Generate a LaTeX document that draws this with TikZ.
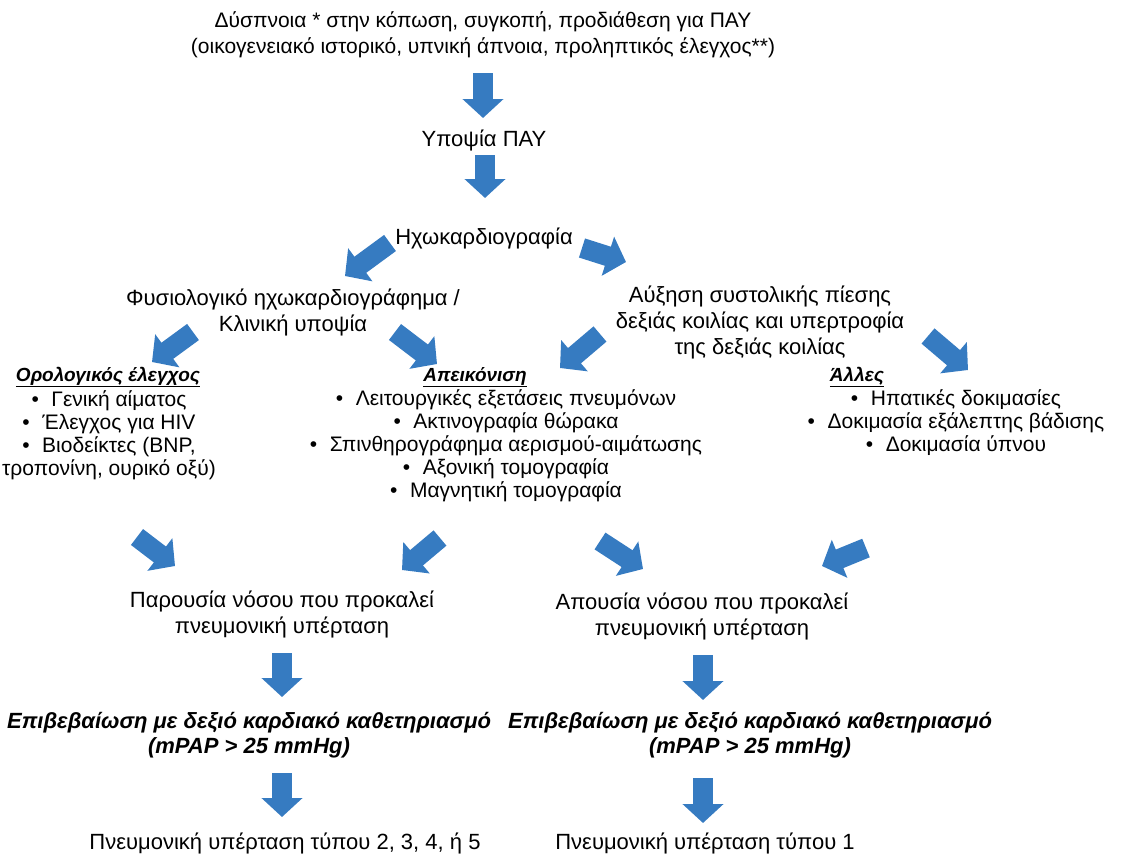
\documentclass[tikz,border=0pt]{standalone}
\usepackage{fontspec}
\setmainfont{Liberation Sans}
\usepackage{tikz}
\usetikzlibrary{arrows.meta}

\definecolor{arrowblue}{RGB}{54,123,193}
\tikzset{
    txt/.style={align=center, inner sep=2pt, font=\fontsize{22}{26}\selectfont},
    lst/.style={align=center, inner sep=2pt, font=\fontsize{21}{23}\selectfont},
    hdr/.style={inner sep=2pt, font=\fontsize{19}{23}\selectfont\bfseries\itshape},
    cnf/.style={align=center, inner sep=2pt, font=\fontsize{22}{25}\selectfont\bfseries\itshape},
    bigarrow/.style={arrowblue, line width=20pt, -{Triangle[width=40pt,length=19pt]}}
}
\newcommand{\bul}{•\hspace{0.6em}}

\begin{document}
\begin{tikzpicture}[x=1pt, y=-1pt]
                \useasboundingbox (0,0) rectangle (1125,857);
                \node[txt, font=\fontsize{21}{26}\selectfont] (sympt) at (483,35) {Δύσπνοια * στην κόπωση, συγκοπή, προδιάθεση για ΠΑΥ\\(οικογενειακό ιστορικό, υπνική άπνοια, προληπτικός έλεγχος**)};
                \node[txt] (susp) at (484,140) {Υποψία ΠΑΥ};
                \node[txt] (echo) at (484,238) {Ηχωκαρδιογραφία};
                \node[txt] (normal) at (293,312) {Φυσιολογικό ηχωκαρδιογράφημα /\\Κλινική υποψία};
                \node[txt] (rvsp) at (760,322) {Αύξηση συστολικής πίεσης\\δεξιάς κοιλίας και υπερτροφία\\της δεξιάς κοιλίας};
                \node[hdr] (sero) at (108,377) {\underline{Ορολογικός έλεγχος}};
                \node[lst] (serolist) at (109,435) {\bul Γενική αίματος\\\bul Έλεγχος για HIV\\\bul Βιοδείκτες (BNP,\\τροπονίνη, ουρικό οξύ)};
                \node[hdr] (imag) at (475,377) {\underline{Απεικόνιση}};
                \node[lst] (imaglist) at (506,446) {\bul Λειτουργικές εξετάσεις πνευμόνων\\\bul Ακτινογραφία θώρακα\\\bul Σπινθηρογράφημα αερισμού-αιμάτωσης\\\bul Αξονική τομογραφία\\\bul Μαγνητική τομογραφία};
                \node[hdr] (other) at (857,377) {\underline{Άλλες}};
                \node[lst] (otherlist) at (956,423) {\bul Ηπατικές δοκιμασίες\\\bul Δοκιμασία εξάλεπτης βάδισης\\\bul Δοκιμασία ύπνου};
                \node[txt] (present) at (282,614) {Παρουσία νόσου που προκαλεί\\πνευμονική υπέρταση};
                \node[txt] (absent) at (702,616) {Απουσία νόσου που προκαλεί\\πνευμονική υπέρταση};
                \node[cnf] (rhcl) at (249,735) {Επιβεβαίωση με δεξιό καρδιακό καθετηριασμό\\(mPAP > 25 mmHg)};
                \node[cnf] (rhcr) at (750,735) {Επιβεβαίωση με δεξιό καρδιακό καθετηριασμό\\(mPAP > 25 mmHg)};
                \node[txt] (typeb) at (285,843) {Πνευμονική υπέρταση τύπου 2, 3, 4, ή 5};
                \node[txt] (typea) at (705,843) {Πνευμονική υπέρταση τύπου 1};
                \draw[bigarrow] ([shift={(0,38)}]sympt.center) -- ([shift={(-1,-22)}]susp.center);
                \draw[bigarrow] ([shift={(1,15)}]susp.center) -- ([shift={(1,-40)}]echo.center);
                \draw[bigarrow] ([shift={(-94,5)}]echo.center) -- ([shift={(52,-36)}]normal.center);
                \draw[bigarrow] ([shift={(98,10)}]echo.center) -- ([shift={(-134,-60)}]rvsp.center);
                \draw[bigarrow] ([shift={(-100,20)}]normal.center) -- ([shift={(44,-15)}]sero.center);
                \draw[bigarrow] ([shift={(102,20)}]normal.center) -- ([shift={(-38,-13)}]imag.center);
                \draw[bigarrow] ([shift={(-160,12)}]rvsp.center) -- ([shift={(85,-9)}]imag.center);
                \draw[bigarrow] ([shift={(168,14)}]rvsp.center) -- ([shift={(111,-7)}]other.center);
                \draw[bigarrow] ([shift={(28,102)}]serolist.center) -- ([shift={(-107,-48)}]present.center);
                \draw[bigarrow] ([shift={(-66,92)}]imaglist.center) -- ([shift={(120,-44)}]present.center);
                \draw[bigarrow] ([shift={(94,95)}]imaglist.center) -- ([shift={(-59,-47)}]absent.center);
                \draw[bigarrow] ([shift={(-90,125)}]otherlist.center) -- ([shift={(120,-50)}]absent.center);
                \draw[bigarrow] ([shift={(0,39)}]present.center) -- ([shift={(33,-38)}]rhcl.center);
                \draw[bigarrow] ([shift={(1,39)}]absent.center) -- ([shift={(-47,-35)}]rhcr.center);
                \draw[bigarrow] ([shift={(33,38)}]rhcl.center) -- ([shift={(-3,-26)}]typeb.center);
                \draw[bigarrow] ([shift={(-47,43)}]rhcr.center) -- ([shift={(-2,-20)}]typea.center);
            \end{tikzpicture}
\end{document}
